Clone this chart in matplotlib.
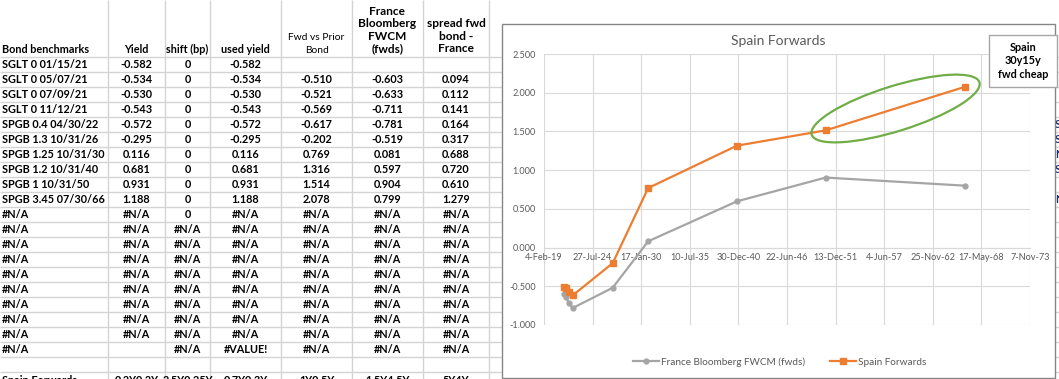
import numpy as np
import matplotlib
matplotlib.use('Agg')
import matplotlib.pyplot as plt
import matplotlib.dates as mdates
from matplotlib.patches import Rectangle, Ellipse
from datetime import datetime

plt.rcParams['font.family'] = ['Lato', 'DejaVu Sans']

# donnees de la feuille
bonds = ['SGLT 0 01/15/21', 'SGLT 0 05/07/21', 'SGLT 0 07/09/21', 'SGLT 0 11/12/21',
         'SPGB 0.4 04/30/22', 'SPGB 1.3 10/31/26', 'SPGB 1.25 10/31/30',
         'SPGB 1.2 10/31/40', 'SPGB 1 10/31/50', 'SPGB 3.45 07/30/66']
yields = [-0.582, -0.534, -0.530, -0.543, -0.572, -0.295, 0.116, 0.681, 0.931, 1.188]
shift_bp = [0, 0, 0, 0, 0, 0, 0, 0, 0, 0]
used_yield = [-0.582, -0.534, -0.530, -0.543, -0.572, -0.295, 0.116, 0.681, 0.931, 1.188]
fwd_prior = [None, -0.510, -0.521, -0.569, -0.617, -0.202, 0.769, 1.316, 1.514, 2.078]
france_fwcm = [None, -0.603, -0.633, -0.711, -0.781, -0.519, 0.081, 0.597, 0.904, 0.799]
spread_fwd = [None, 0.094, 0.112, 0.141, 0.164, 0.317, 0.688, 0.720, 0.610, 1.279]

headers = ['Bond benchmarks', 'Yield', 'shift (bp)', 'used yield', 'Fwd vs Prior\nBond',
           'France\nBloomberg\nFWCM\n(fwds)', 'spread fwd\nbond -\nFrance']
na_rows = ([['#N/A', '#N/A', '0', '#N/A', '#N/A', '#N/A', '#N/A']]
           + [['#N/A'] * 7 for _ in range(8)]
           + [['#N/A', '', '#N/A', '#VALUE!', '#N/A', '#N/A', '#N/A'], [''] * 7])
last_row = ['Spain Forwards', '0.2Y0.2Y', '2.5Y0.25Y', '0.7Y0.3Y', '1Y0.5Y', '1.5Y4.5Y', '5Y4Y']
side_frag = ['SPGB', 'SPGB', 'N/A', 'SPGB', 'N/A']

maturities = [datetime.strptime(b.split()[-1], '%m/%d/%y') for b in bonds]

W, H = 1059, 379
fig = plt.figure(figsize=(W / 100, H / 100), dpi=100)

# ---- feuille excel en fond ----
bg = fig.add_axes([0, 0, 1, 1])
bg.set_xlim(0, W)
bg.set_ylim(H, 0)
bg.axis('off')

grid_c = '#D4D4D4'
col_lines = [108, 165, 210, 281, 352, 423, 489]
row_h = 15
first_line = 57
for x in col_lines:
    bg.vlines(x, 0, H, color=grid_c, lw=1)
for k in range(22):
    bg.hlines(first_line + k * row_h, 0, W, color=grid_c, lw=1)

col_cx = [2, 136.5, 187.5, 245.5, 316.5, 387.5, 456]
fs = 7.8

def cell(i, y, s, **kw):
    ha = 'left' if i == 0 else 'center'
    bg.text(col_cx[i], y, s, ha=ha, va='center', fontsize=fs,
            fontweight='bold', color='black', **kw)

# en-tetes
for i, h in enumerate(headers):
    if i in (5, 6):
        bg.text(col_cx[i], 52, h, ha='center', va='baseline', fontsize=8.6,
                fontweight='bold', linespacing=1.15)
    elif i == 4:
        bg.text(col_cx[i], 53, h, ha='center', va='baseline', fontsize=7.4,
                linespacing=1.5)
    else:
        ha = 'left' if i == 0 else 'center'
        bg.text(col_cx[i], 53, h, ha=ha, va='baseline', fontsize=fs, fontweight='bold')

def fmt(v):
    return '' if v is None else f'{v:.3f}'

for r in range(len(bonds)):
    y = first_line + 7.5 + r * row_h
    vals = [bonds[r], fmt(yields[r]), str(shift_bp[r]), fmt(used_yield[r]),
            fmt(fwd_prior[r]), fmt(france_fwcm[r]), fmt(spread_fwd[r])]
    for i, s in enumerate(vals):
        cell(i, y, s)

for r, row in enumerate(na_rows):
    y = first_line + 7.5 + (len(bonds) + r) * row_h
    for i, s in enumerate(row):
        cell(i, y, s)

# derniere ligne, coupee par le bord comme dans la capture
for i, s in enumerate(last_row):
    ha = 'left' if i == 0 else 'center'
    bg.text(col_cx[i], 375.5, s, ha=ha, va='top', fontsize=fs, fontweight='bold')

for j, s in enumerate(side_frag):
    y = first_line + 7.5 + (4 + j + (1 if j == 4 else 0)) * row_h
    bg.text(1055, y, s, ha='left', va='center', fontsize=fs, fontweight='bold',
            color='#1F2F6B')

# cadre du graphique
bg.add_patch(Rectangle((502, 24), 553, 354, fc='white', ec='#868686', lw=1, zorder=5))

# ---- graphique ----
pl, pr, pt, pb = 544, 1030, 54, 325
ax = fig.add_axes([pl / W, 1 - pb / H, (pr - pl) / W, (pb - pt) / H])
ax.set_facecolor('none')

x_dates = mdates.date2num(maturities[1:])
ax.plot(x_dates, france_fwcm[1:], color='#A5A5A5', lw=1.6, marker='o', ms=3.5,
        label='France Bloomberg FWCM (fwds)', zorder=3)
ax.plot(x_dates, fwd_prior[1:], color='#ED7D31', lw=1.6, marker='s', ms=4,
        label='Spain Forwards', zorder=4)

x0 = mdates.date2num(datetime(2019, 2, 4))
xt = x0 + 2000 * np.arange(11)
ax.set_xlim(xt[0], xt[-1])
ax.set_ylim(-1.0, 2.5)
ax.set_xticks(xt)
ax.set_yticks(np.arange(-1.0, 2.51, 0.5))
ax.xaxis.set_major_formatter(mdates.DateFormatter('%-d-%b-%y'))
ax.yaxis.set_major_formatter(matplotlib.ticker.FormatStrFormatter('%.3f'))
ax.grid(True, color='#D9D9D9', lw=0.8)
ax.set_axisbelow(True)
for s in ['top', 'right', 'left']:
    ax.spines[s].set_visible(False)
ax.spines['bottom'].set_position(('data', 0))
ax.spines['bottom'].set_color('#D9D9D9')
ax.tick_params(axis='both', length=0, labelsize=6.6, labelcolor='#595959')
ax.tick_params(axis='x', pad=4)
ax.tick_params(axis='y', pad=6)

fig.text(778 / W, 1 - 41 / H, 'Spain Forwards', ha='center', va='center',
         fontsize=10, color='#595959')

fig.legend(loc='center', bbox_to_anchor=(780 / W, 1 - 362 / H), ncol=2, frameon=False,
           fontsize=7.2, labelcolor='#595959', handlelength=2.6, columnspacing=2.5,
           handletextpad=0.2)

# ellipse verte autour des deux derniers points espagnols
pts = ax.transData.transform(np.column_stack([x_dates[-2:], fwd_prior[-2:]])) / fig.dpi
c = pts.mean(axis=0)
d = pts[1] - pts[0]
ang = np.degrees(np.arctan2(d[1], d[0]))
ell = Ellipse(c, width=np.hypot(*d) * 1.2, height=0.45, angle=ang, fill=False,
              ec='#70AD47', lw=1.6, transform=fig.dpi_scale_trans, zorder=6)
fig.add_artist(ell)

# boite de commentaire
box = Rectangle((989 / W, 1 - 87 / H), 68 / W, 52 / H, fc='white', ec='#A6A6A6', lw=1,
                transform=fig.transFigure, zorder=6)
fig.add_artist(box)
fig.text(1023 / W, 1 - 61 / H, 'Spain\n30y15y\nfwd cheap', ha='center', va='center',
         fontsize=7.8, fontweight='bold', linespacing=1.3, zorder=7)

fig.savefig('out.png', dpi=100)
